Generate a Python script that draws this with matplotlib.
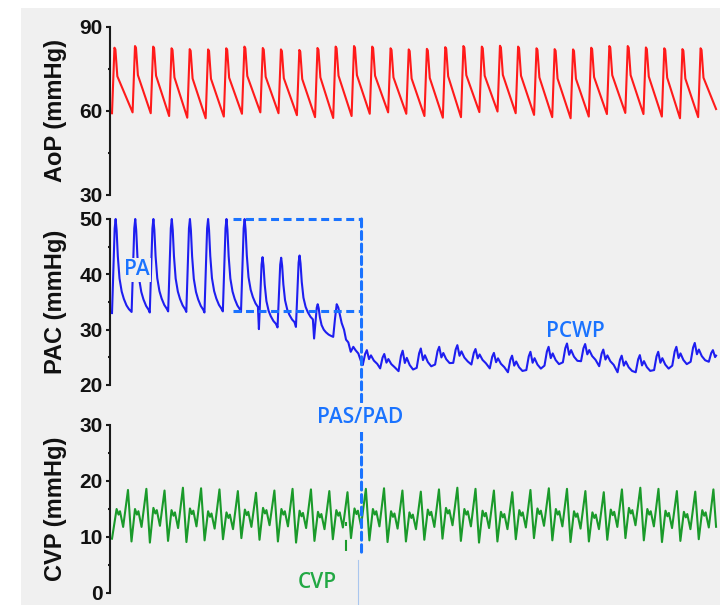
import numpy as np
import matplotlib
matplotlib.use("Agg")
import matplotlib.pyplot as plt
from matplotlib.patches import Rectangle, ConnectionPatch

plt.rcParams['font.family'] = ['Liberation Sans', 'DejaVu Sans']
plt.rcParams['font.weight'] = 'bold'

# ---------------- data (time in s, pressure in mmHg) ----------------
t_end = 24.96

# Aortic pressure: one entry per beat
aop_onset = [0.00, 0.85, 1.60, 2.36, 3.11, 3.87, 4.62, 5.37, 6.13, 6.88, 7.64, 8.39,
             9.14, 9.90, 10.65, 11.41, 12.16, 12.91, 13.67, 14.42, 15.18, 15.93, 16.68,
             17.44, 18.19, 18.95, 19.70, 20.45, 21.21, 21.96, 22.72, 23.47, 24.22]
aop_trough = [59.2, 59.5, 59.2, 58.2, 57.6, 57.4, 58.0, 59.0, 59.5, 59.2, 58.5, 57.8,
              57.5, 58.2, 59.0, 59.5, 59.0, 58.2, 57.6, 57.8, 59.6, 59.8, 59.2, 58.6,
              57.8, 57.4, 58.0, 58.9, 59.3, 58.9, 58.0, 57.4, 57.8]
aop_peak = [82.6, 83.2, 83.0, 82.4, 82.1, 82.0, 82.4, 83.0, 82.5, 82.0, 81.8, 82.5,
            83.0, 83.2, 83.0, 82.4, 82.0, 82.2, 82.8, 83.2, 83.0, 83.3, 83.0, 82.4,
            82.1, 82.0, 82.6, 83.2, 83.2, 82.7, 82.4, 82.1, 82.4]
aop_notch = [72.4, 72.8, 72.6, 72.0, 71.6, 71.5, 71.9, 72.5, 72.2, 71.7, 71.4, 72.0,
             72.6, 72.8, 72.6, 72.0, 71.6, 71.8, 72.4, 72.8, 72.6, 72.9, 72.6, 72.0,
             71.6, 71.5, 72.1, 72.8, 72.8, 72.3, 71.9, 71.6, 71.9]
aop_last = 60.7
aop_shape_dt = [0.0, 0.10, 0.14, 0.22]

# Pulmonary artery catheter: PA beats (catheter advancing)
pa_onset = [0.00, 0.81, 1.56, 2.32, 3.07, 3.82, 4.58, 5.33, 6.07, 6.84, 7.60, 8.35]
pa_start = [33.0, 33.2, 33.1, 33.3, 33.2, 33.1, 33.3, 33.2, 30.1, 30.4, 30.5, 28.4]
pa_peak = [50.0, 50.0, 50.0, 50.0, 50.0, 50.0, 50.0, 50.0, 43.1, 43.0, 43.4, 34.6]
pa_base = [33.2, 33.1, 33.3, 33.2, 33.1, 33.3, 33.2, 33.6, 30.7, 31.0, 31.5, 28.7]
pa_shape_dt = [0.0, 0.05, 0.11, 0.15, 0.19, 0.24, 0.31, 0.40, 0.49, 0.60, 0.70]
pa_shape_f = [0.0, 0.40, 0.90, 1.00, 0.88, 0.60, 0.36, 0.22, 0.14, 0.07, 0.03]
# transition to wedge
pac_mid_t = [9.14, 9.215, 9.285, 9.35, 9.49, 9.587, 9.67, 9.765, 9.864, 9.971, 10.062, 10.178, 10.318]
pac_mid_v = [28.7, 32.0, 34.6, 34.0, 31.2, 30.0, 28.2, 27.7, 26.0, 26.9, 26.3, 25.7, 23.9]
# wedge (PCWP) beats
pcwp_onset = [10.36, 11.08, 11.84, 12.59, 13.35, 14.10, 14.85, 15.61, 16.36, 17.12,
              17.87, 18.63, 19.38, 20.13, 20.89, 21.64, 22.40, 23.15, 23.91, 24.66]
pcwp_trough = [23.6, 23.0, 22.5, 23.1, 23.7, 24.0, 23.7, 23.0, 22.3, 22.7,
               23.5, 24.1, 24.3, 23.4, 22.3, 22.3, 22.7, 23.5, 24.2, 24.2]
pcwp_peak = [26.3, 25.6, 26.2, 26.6, 26.9, 27.2, 26.5, 25.8, 25.3, 26.0,
             26.9, 27.5, 27.4, 26.4, 25.3, 25.4, 26.0, 26.9, 27.6, 26.3]
pcwp_shape_dt = [0.0, 0.10, 0.17, 0.26, 0.34, 0.46, 0.60]
pcwp_shape_f = [0.0, 0.75, 1.00, 0.40, 0.65, 0.30, 0.08]

# Central venous pressure
cvp_head_t = [0.0, 0.19, 0.27, 0.33, 0.46]
cvp_head_v = [9.7, 15.0, 14.0, 14.6, 11.8]
cvp_peak_t = [0.66, 1.42, 2.17, 2.93, 3.68, 4.44, 5.20, 5.95, 6.71, 7.46, 8.22, 8.98,
              9.73, 10.49, 11.24, 12.00, 12.76, 13.51, 14.27, 15.02, 15.78, 16.54, 17.29,
              18.05, 18.80, 19.56, 20.32, 21.07, 21.83, 22.58, 23.34, 24.10, 24.85]
cvp_P = [18.4, 18.6, 18.3, 18.8, 18.7, 18.5, 18.2, 17.9, 18.3, 18.6, 18.5, 18.2,
         18.0, 18.6, 18.7, 18.3, 18.1, 18.5, 18.8, 18.6, 18.3, 18.0, 18.4, 18.7,
         18.6, 18.2, 18.0, 18.5, 18.8, 18.6, 18.2, 18.1, 18.5]
cvp_T = [9.2, 9.0, 9.3, 9.1, 9.4, 9.6, 9.8, 9.5, 9.2, 9.0, 9.3, 9.6,
         9.8, 9.4, 9.1, 9.2, 9.5, 9.7, 9.3, 9.0, 9.2, 9.6, 9.8, 9.4,
         9.1, 9.2, 9.5, 9.8, 9.4, 9.1, 9.3, 9.6, 9.7]
cvp_M = [15.0, 15.2, 14.8, 15.1, 14.6, 14.4, 14.9, 15.2, 15.0, 14.7, 14.5, 14.8,
         15.1, 15.0, 14.6, 14.4, 14.9, 15.2, 15.0, 14.7, 14.5, 14.8, 15.1, 15.0,
         14.6, 14.4, 14.9, 15.2, 15.0, 14.7, 14.5, 14.8, 15.0]
cvp_D = [11.8, 12.0, 11.6, 11.9, 11.5, 11.4, 11.8, 12.1, 11.9, 11.6, 11.4, 11.7,
         12.0, 11.9, 11.5, 11.4, 11.8, 12.1, 11.9, 11.6, 11.4, 11.7, 12.0, 11.9,
         11.5, 11.4, 11.8, 12.1, 11.9, 11.6, 11.4, 11.7, 11.9]
cvp_shape_dt = [0.0, 0.145, 0.29, 0.37, 0.43, 0.56]
cvp_notch = 1.0

# annotation anchors (data units)
box_t0, box_t1 = 5.0, 10.31
box_top, box_mid = 50.0, 33.3
pasd_cvp_end = 7.3
cvp_mark_t = 9.67
cvp_mark_top, cvp_mark_bot = 12.6, 7.3

# ---------------- build traces ----------------
aop_t = (np.array(aop_onset)[:, None] + np.array(aop_shape_dt)[None, :]).ravel()
aop_v = np.column_stack([aop_trough, aop_peak, np.array(aop_peak) - 0.6, aop_notch]).ravel()
aop_t = np.append(aop_t, t_end)
aop_v = np.append(aop_v, aop_last)

pa_t, pa_v = [], []
ipk = pa_shape_f.index(1.0)
for on, s, p, b in zip(pa_onset, pa_start, pa_peak, pa_base):
    for k, (dt, f) in enumerate(zip(pa_shape_dt, pa_shape_f)):
        pa_t.append(on + dt)
        pa_v.append(s + f * (p - s) if k <= ipk else b + f * (p - b))
pc_t, pc_v = [], []
for on, tr, pk in zip(pcwp_onset, pcwp_trough, pcwp_peak):
    for dt, f in zip(pcwp_shape_dt, pcwp_shape_f):
        pc_t.append(on + dt)
        pc_v.append(tr + f * (pk - tr))
all_t = np.concatenate([pa_t, pac_mid_t, pc_t])
all_v = np.concatenate([pa_v, pac_mid_v, pc_v])
m = all_t <= t_end
pac_t = np.append(all_t[m], t_end)
pac_v = np.append(all_v[m], np.interp(t_end, all_t, all_v))

cvp_t = (np.array(cvp_peak_t)[:, None] + np.array(cvp_shape_dt)[None, :]).ravel()
M = np.array(cvp_M)
cvp_v = np.column_stack([cvp_P, cvp_T, M, M - cvp_notch, M - 0.4, cvp_D]).ravel()
cvp_t = np.concatenate([cvp_head_t, cvp_t])
cvp_v = np.concatenate([cvp_head_v, cvp_v])
m = cvp_t <= t_end
end_v = np.interp(t_end, cvp_t, cvp_v)
cvp_t = np.append(cvp_t[m], t_end)
cvp_v = np.append(cvp_v[m], end_v)

# ---------------- figure ----------------
W, H = 720, 605
fig = plt.figure(figsize=(W / 100, H / 100), dpi=100, facecolor='white')
fig.add_artist(Rectangle((21 / W, 0), 1 - 21 / W, 1 - 8 / H, transform=fig.transFigure,
                         facecolor='#f0f0f0', edgecolor='none', zorder=-1))

L, AW = 110 / W, 608 / W
ax1 = fig.add_axes([L, 1 - 195 / H, AW, 168 / H])
ax2 = fig.add_axes([L, 1 - 385 / H, AW, 166 / H])
ax3 = fig.add_axes([L, 1 - 593 / H, AW, 168 / H])

specs = [
    (ax1, (30, 90), [30, 60, 90], [45, 75], 'AoP (mmHg)'),
    (ax2, (20, 50), [20, 30, 40, 50], [25, 35, 45], 'PAC (mmHg)'),
    (ax3, (0, 30), [0, 10, 20, 30], [5, 15, 25], 'CVP (mmHg)'),
]
for ax, yl, maj, mnr, lab in specs:
    ax.set_facecolor('none')
    ax.set_xlim(-0.083, 25.04)
    ax.set_ylim(*yl)
    ax.set_yticks(maj)
    ax.set_yticks(mnr, minor=True)
    for s in ['top', 'right', 'bottom']:
        ax.spines[s].set_visible(False)
    ax.spines['left'].set_linewidth(1.5)
    ax.spines['left'].set_color('#1a1a1a')
    ax.set_xticks([])
    ax.tick_params(axis='y', which='major', length=3.2, width=1.5, pad=2,
                   labelsize=15, color='#1a1a1a', labelcolor='#111111')
    ax.tick_params(axis='y', which='minor', length=1.8, width=1.5, color='#1a1a1a')
    for tl in ax.get_yticklabels():
        tl.set_fontweight('bold')
    ax.set_ylabel(lab, fontsize=17, fontweight='bold', color='#111111')
    ax.yaxis.set_label_coords(-43 / 608, 0.5)

ax1.plot(aop_t, aop_v, color='#ff1a1a', lw=1.5, clip_on=False)
ax2.plot(pac_t, pac_v, color='#1e1ef0', lw=1.5, clip_on=False, zorder=3)
ax3.plot(cvp_t, cvp_v, color='#1a9a2a', lw=1.5, clip_on=False)

# annotations
ann_blue = '#1a73ff'
dash = (0, (2.6, 1.5))
ax2.plot([box_t0, box_t1], [box_top, box_top], color=ann_blue, lw=2.2, ls=dash, clip_on=False, zorder=4)
ax2.plot([box_t0, box_t1], [box_mid, box_mid], color=ann_blue, lw=2.2, ls=dash, clip_on=False, zorder=4)
con = ConnectionPatch(xyA=(box_t1, box_top), coordsA=ax2.transData,
                      xyB=(box_t1, pasd_cvp_end), coordsB=ax3.transData,
                      color=ann_blue, lw=2.2, linestyle=dash, zorder=4)
fig.add_artist(con)
ax3.plot([box_t1 - 0.15, box_t1 - 0.15], [5.9, -2.2], color='#a9c6ee', lw=0.8, clip_on=False)
ax3.plot([cvp_mark_t, cvp_mark_t], [cvp_mark_top, cvp_mark_bot], color='#1a9a2a', lw=1.5,
         ls=(0, (1.9, 6.7, 5.3, 10)), clip_on=False)

tfont = dict(family=['Open Sans', 'DejaVu Sans'], fontweight='semibold', fontsize=15)
bb = dict(facecolor='#f0f0f0', edgecolor='none', pad=1.0)
ax2.text(1.03, 40.8, 'PA', color=ann_blue, ha='center', va='center', bbox=bb, zorder=5, **tfont)
ax2.text(19.13, 29.75, 'PCWP', color=ann_blue, ha='center', va='center', zorder=5, **tfont)
fig.text(10.25, 31.3, 'PAS/PAD', transform=ax3.transData, color=ann_blue, ha='center',
         va='center', bbox=dict(facecolor='#f0f0f0', edgecolor='none', pad=3.0), zorder=8, **tfont)
ax3.text(8.47, 1.8, 'CVP', color='#22a844', ha='center', va='center', clip_on=False, **tfont)

fig.savefig('out.png', dpi=100, facecolor='white')
